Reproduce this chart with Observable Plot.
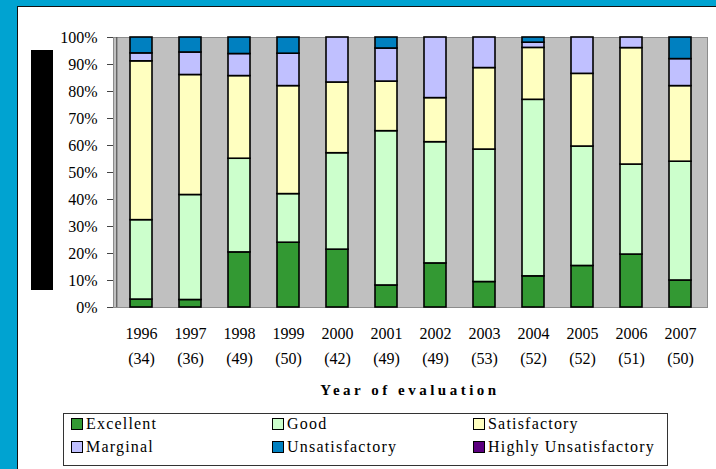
<!DOCTYPE html>
<html><head><meta charset="utf-8">
<script src="https://cdn.jsdelivr.net/npm/d3@7"></script>
<script src="https://cdn.jsdelivr.net/npm/@observablehq/plot@0.6"></script>
<style>
html,body{margin:0;padding:0;}
body{width:716px;height:469px;overflow:hidden;background:#00A3D1;position:relative;font-family:"Liberation Serif","Times New Roman",serif;color:#000;}
#panel{position:absolute;left:17px;top:6px;width:720px;height:480px;background:#fff;border-left:1px solid #111;border-top:1px solid #111;box-sizing:border-box;}
#chart{position:absolute;left:0;top:0;}
#blk{position:absolute;left:31px;top:50px;width:22px;height:240px;background:#000;}
#xtitle{position:absolute;left:113px;width:594px;top:382px;text-align:center;font-weight:bold;font-size:15px;letter-spacing:3.5px;}
#legend{position:absolute;left:63px;top:413px;width:605px;height:53px;box-sizing:border-box;border:1px solid #333;background:#fff;}
.item{position:absolute;font-size:16px;letter-spacing:1.2px;line-height:16px;white-space:nowrap;}
.sw{display:inline-block;width:10px;height:10px;border:1.5px solid #000;vertical-align:-1px;margin-right:3px;}
</style>
</head><body>
<div id="panel"></div>
<div id="blk"></div>
<div id="chart"></div>
<div id="xtitle">Year of evaluation</div>
<div id="legend"></div>
<script>
const years = ["1996","1997","1998","1999","2000","2001","2002","2003","2004","2005","2006","2007"];
const nEval = [34,36,49,50,42,49,49,53,52,52,51,50];
const categories = ["Excellent","Good","Satisfactory","Marginal","Unsatisfactory","Highly Unsatisfactory"];
const colors = ["#339933","#CCFFCC","#FFFFC0","#C0C0FF","#0080C0","#5C007F"];
const excellent      = [1,1,10,12,9,4,8,5,6,8,10,5];
const good           = [10,14,17,9,15,28,22,26,34,23,17,22];
const satisfactory   = [20,16,15,20,11,9,8,16,10,14,22,14];
const marginal       = [1,3,4,6,7,6,11,6,1,7,2,5];
const unsatisfactory = [2,2,3,3,0,2,0,0,1,0,0,4];
const highlyUnsat    = [0,0,0,0,0,0,0,0,0,0,0,0];
const yTicks = [0,0.1,0.2,0.3,0.4,0.5,0.6,0.7,0.8,0.9,1];

const series = [excellent, good, satisfactory, marginal, unsatisfactory, highlyUnsat];
const rows = [];
categories.forEach((c, ci) => {
  years.forEach((y, yi) => {
    const v = series[ci][yi];
    if (v > 0) rows.push({year: y, category: c, count: v});
  });
});

const FONT = '"Liberation Serif", "Times New Roman", serif';
const chart = Plot.plot({
  width: 716,
  height: 469,
  marginLeft: 113,
  marginRight: 9,
  marginTop: 37,
  marginBottom: 162,
  style: {background: "transparent", fontFamily: FONT, fontSize: "16px", color: "#000"},
  x: {domain: years, axis: null, paddingInner: 0.56, paddingOuter: 0.28},
  y: {domain: [0, 1]},
  color: {domain: categories, range: colors},
  marks: [
    Plot.frame({fill: "#C0C0C0", stroke: "#8C8C8C", strokeWidth: 1}),
    Plot.barY(rows, Plot.stackY({
      x: "year", y: "count", z: "category", fill: "category",
      order: categories, offset: "normalize",
      stroke: "#000", strokeWidth: 1.6
    })),
    Plot.axisY({ticks: yTicks, tickFormat: d3.format(".0%"), tickSize: 6, tickPadding: 10, label: null, stroke: "#444", fontSize: 16, fontFamily: FONT}),
    Plot.ruleX([0], {x: () => years[0], dx: -24.75, y1: 0, y2: 1, stroke: "#555", strokeWidth: 1.2}),
    Plot.text(years, {x: d => d, y: () => 0, dy: 26, text: d => d, fontSize: 16, fontFamily: FONT}),
    Plot.text(years, {x: d => d, y: () => 0, dy: 51, text: (d, i) => `(${nEval[i]})`, fontSize: 16, fontFamily: FONT})
  ]
});
document.getElementById("chart").appendChild(chart);

const legend = document.getElementById("legend");
const colX = [7, 208, 409];
const rowY = [2, 25];
categories.forEach((c, i) => {
  const el = document.createElement("div");
  el.className = "item";
  el.style.left = colX[i % 3] + "px";
  el.style.top = rowY[Math.floor(i / 3)] + "px";
  const sw = document.createElement("span");
  sw.className = "sw";
  sw.style.background = colors[i];
  el.appendChild(sw);
  el.appendChild(document.createTextNode(c));
  legend.appendChild(el);
});
</script>
</body></html>
